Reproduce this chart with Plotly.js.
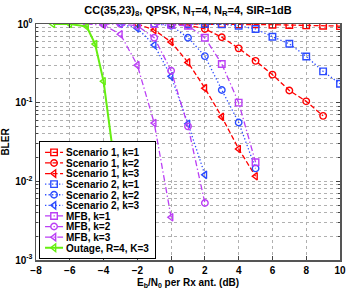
<!DOCTYPE html>
<html>
<head>
<meta charset="utf-8">
<script src="https://cdn.plot.ly/plotly-3.0.1.min.js"></script>
<style>html,body{margin:0;padding:0;background:#fff;}#chart{width:349px;height:294px;}</style>
</head>
<body>
<div id="chart"></div>
<script>
// ---- data ----
var s1k1_x = [0, 1, 2, 3, 4, 5, 6, 7, 8, 9, 10];
var s1k1_y = [1, 1, 1, 1, 0.99, 0.99, 0.98, 0.97, 0.96, 0.95, 0.94];
var s1k2_x = [0, 1, 2, 3, 4, 5, 6, 7, 8, 9];
var s1k2_y = [1, 0.97, 0.865, 0.68, 0.49, 0.34, 0.227, 0.143, 0.104, 0.068];
var s1k3_x = [-2, -1, 0, 1, 2, 3, 4, 5];
var s1k3_y = [1, 0.84, 0.59, 0.325, 0.153, 0.066, 0.0258, 0.0116];
var s2k1_x = [0, 1, 2, 3, 4, 5, 6, 7, 8, 9, 10];
var s2k1_y = [1, 1, 1, 0.99, 0.95, 0.865, 0.69, 0.56, 0.387, 0.25, 0.174];
var s2k2_x = [-1, 0, 1, 2, 3, 4, 5];
var s2k2_y = [1, 0.95, 0.67, 0.39, 0.145, 0.056, 0.0146];
var s2k3_x = [-3, -2, -1, 0, 1, 2];
var s2k3_y = [1, 0.88, 0.54, 0.216, 0.054, 0.0121];
var mfb1_x = [-1, 0, 1, 2, 3, 4, 5];
var mfb1_y = [1, 0.98, 0.95, 0.67, 0.31, 0.1, 0.0175];
var mfb2_x = [-4, -3, -2, -1, 0, 1, 2];
var mfb2_y = [1, 1, 0.95, 0.67, 0.255, 0.05, 0.0053];
var mfb3_x = [-5, -4, -3, -2, -1, 0];
var mfb3_y = [1, 0.97, 0.74, 0.30, 0.055, 0.0035];
var out_x = [-7, -6, -5, -4.5, -4, -3.5, -3];
var out_y = [1, 1, 0.93, 0.555, 0.187, 0.029, 0.002];

var names = ['Scenario 1, k=1', 'Scenario 1, k=2', 'Scenario 1, k=3',
             'Scenario 2, k=1', 'Scenario 2, k=2', 'Scenario 2, k=3',
             'MFB, k=1', 'MFB, k=2', 'MFB, k=3', 'Outage, R=4, K=3'];
var xTickVals = [-8, -6, -4, -2, 0, 2, 4, 6, 8, 10];
var yTickVals = [1, 0.1, 0.01, 0.001];
var yTickText = ['10<sup>0</sup>', '10<sup>-1</sup>', '10<sup>-2</sup>', '10<sup>-3</sup>'];

var RED = '#ff0000', BLUE = '#2b4bff', PURP = '#bb3ff5', GREEN = '#66ee11';
var DASH = '5px,2.5px', DOT = '1.3px,2.2px', DASHDOT = '6px,2.5px,1.3px,2.5px';

function tr(x, y, name, color, dash, symbol, width) {
  return {
    type: 'scatter', mode: 'lines+markers', x: x, y: y, name: name,
    line: {color: color, dash: dash, width: width || 1.3},
    marker: {symbol: symbol, size: 6.5, color: color, line: {color: color, width: 1.4}}
  };
}

var traces = [
  tr(s1k1_x, s1k1_y, names[0], RED, DASH, 'square-open'),
  tr(s1k2_x, s1k2_y, names[1], RED, DASH, 'circle-open'),
  tr(s1k3_x, s1k3_y, names[2], RED, DASH, 'triangle-left-open'),
  tr(s2k1_x, s2k1_y, names[3], BLUE, DOT, 'square-open'),
  tr(s2k2_x, s2k2_y, names[4], BLUE, DOT, 'circle-open'),
  tr(s2k3_x, s2k3_y, names[5], BLUE, DOT, 'triangle-left-open'),
  tr(mfb1_x, mfb1_y, names[6], PURP, DASHDOT, 'square-open'),
  tr(mfb2_x, mfb2_y, names[7], PURP, DASHDOT, 'circle-open'),
  tr(mfb3_x, mfb3_y, names[8], PURP, DASHDOT, 'triangle-left-open'),
  tr(out_x, out_y, names[9], GREEN, 'solid', 'triangle-left-open', 2)
];

var FONT = {family: 'Liberation Sans, Arial, sans-serif', size: 10, color: '#000', weight: 'bold'};

var layout = {
  width: 349, height: 294,
  margin: {l: 36, r: 9, t: 24, b: 34},
  paper_bgcolor: '#fff', plot_bgcolor: '#fff',
  font: FONT,
  showlegend: true,
  title: {text: 'CC(35,23)<sub>8</sub>, QPSK, N<sub>T</sub>=4, N<sub>R</sub>=4, SIR=1dB',
          font: {family: FONT.family, size: 11, weight: 'bold', color: '#000'},
          xref: 'paper', x: 0.5, xanchor: 'center', yref: 'container', y: 0.965, yanchor: 'middle'},
  xaxis: {
    range: [-8, 10], tickmode: 'array', tickvals: xTickVals,
    ticks: 'inside', ticklen: 4, tickcolor: '#444',
    showline: true, linecolor: '#555', linewidth: 1.5, mirror: 'ticks',
    showgrid: true, gridcolor: '#b0b0b0', griddash: 'dot', gridwidth: 1,
    zeroline: false,
    title: {text: 'E<sub>b</sub>/N<sub>0</sub> per Rx ant. (dB)', standoff: 4,
            font: {family: FONT.family, size: 10, weight: 'bold', color: '#000'}}
  },
  yaxis: {
    type: 'log', range: [-3, 0], tickmode: 'array', tickvals: yTickVals, ticktext: yTickText,
    ticks: 'inside', ticklen: 4, tickcolor: '#444',
    showline: true, linecolor: '#555', linewidth: 1.5, mirror: 'ticks',
    showgrid: true, gridcolor: '#b0b0b0', griddash: 'dot', gridwidth: 1,
    minor: {dtick: 'D1', showgrid: true, gridcolor: '#b0b0b0', griddash: 'dot', ticks: 'inside', ticklen: 2, tickcolor: '#444'},
    zeroline: false,
    title: {text: 'BLER', standoff: 6,
            font: {family: FONT.family, size: 10, weight: 'bold', color: '#000'}}
  },
  legend: {
    x: 0.01, y: 0.004, xanchor: 'left', yanchor: 'bottom',
    bgcolor: '#fff', bordercolor: '#000', borderwidth: 1,
    font: {family: FONT.family, size: 10, weight: 'bold', color: '#000'},
    tracegroupgap: 0
  }
};

var gd = document.getElementById('chart');
Plotly.newPlot(gd, traces, layout, {staticPlot: true, displayModeBar: false}).then(function () {
  // compact the legend entries to the reference's row spacing and sample length
  var leg = gd.querySelector('g.legend');
  if (!leg) return;
  var items = leg.querySelectorAll('g.traces');
  if (!items.length) return;
  var STEP = 10.6, SHIFTX = 14;
  var xs = [], ys = [];
  items.forEach(function (it) {
    var m = /translate\(\s*([-\d.e]+)[ ,]+([-\d.e]+)\s*\)/.exec(it.getAttribute('transform') || '');
    xs.push(m ? +m[1] : 0); ys.push(m ? +m[2] : 0);
  });
  var oldStep = ys.length > 1 ? (ys[1] - ys[0]) : STEP;
  var shrink = (oldStep - STEP) * items.length;
  var y0 = ys[0] - (oldStep - STEP) / 2;
  items.forEach(function (it, i) {
    it.setAttribute('transform', 'translate(' + xs[i] + ',' + (y0 + i * STEP) + ')');
    it.querySelectorAll('.legendlines path, .legendfill path').forEach(function (p) {
      p.setAttribute('d', 'M5,0h18');
    });
    it.querySelectorAll('.legendpoints path').forEach(function (p) {
      p.setAttribute('transform', 'translate(14,0)');
    });
    it.querySelectorAll('text.legendtext').forEach(function (t) {
      var x = parseFloat(t.getAttribute('x') || '40');
      t.setAttribute('x', x - SHIFTX);
    });
  });
  var bg = leg.querySelector('rect.bg');
  if (bg) {
    var h = parseFloat(bg.getAttribute('height'));
    var w = parseFloat(bg.getAttribute('width'));
    bg.setAttribute('height', h - shrink);
    bg.setAttribute('width', w - SHIFTX);
  }
  var m = /translate\(\s*([-\d.e]+)[ ,]+([-\d.e]+)\s*\)/.exec(leg.getAttribute('transform') || '');
  if (m) leg.setAttribute('transform', 'translate(' + m[1] + ',' + (+m[2] + shrink) + ')');
  var sb = leg.querySelector('.scrollbox');
  if (sb) sb.removeAttribute('clip-path');
});
</script>
</body>
</html>
